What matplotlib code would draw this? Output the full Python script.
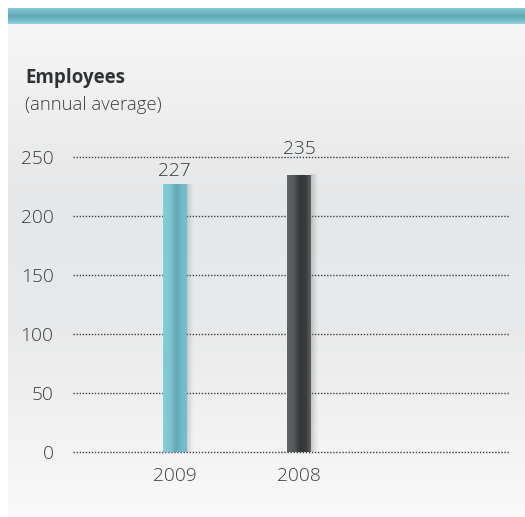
import numpy as np
import matplotlib
matplotlib.use("Agg")
import matplotlib.pyplot as plt
from matplotlib.colors import LinearSegmentedColormap

# ---- data ----
categories = ["2009", "2008"]
employees = [227, 235]
y_ticks = [0, 50, 100, 150, 200, 250]
title = "Employees"
subtitle = "(annual average)"

bar_colors = [
    ["#88cdd9", "#7cc3d1", "#66a6b4", "#6fbccb", "#73c1cf"],
    ["#5f6568", "#54595b", "#323435", "#3a3c3d", "#606365"],
]
# vertical gap (points) between each bar top and its value label baseline
label_gaps = [5.5, 15]

W, H = 525, 517
fig = plt.figure(figsize=(W / 100, H / 100), dpi=100)
fig.patch.set_facecolor("white")
FONT = ["Open Sans", "DejaVu Sans"]

# ---- background panel in pixel coordinates ----
bg = fig.add_axes([0, 0, 1, 1])
bg.set_xlim(0, W)
bg.set_ylim(H, 0)
bg.axis("off")

panel_cmap = LinearSegmentedColormap.from_list(
    "panel",
    [(0.0, "#f6f6f6"), (0.35, "#e6e7e8"), (0.6, "#e8e9ea"), (0.85, "#f3f3f3"), (1.0, "#f9f9f9")],
)
grad = np.linspace(0, 1, 256).reshape(-1, 1)
bg.imshow(grad, cmap=panel_cmap, extent=(8, W, H, 24), aspect="auto", interpolation="bicubic")

band_cmap = LinearSegmentedColormap.from_list(
    "band", [(0.0, "#86cad6"), (0.5, "#62a6b4"), (0.85, "#7cc2cf"), (1.0, "#9ad4de")]
)
bg.imshow(grad, cmap=band_cmap, extent=(8, W, 24, 8), aspect="auto", interpolation="bicubic")

bg.text(25, 83, title, fontsize=13.5, fontweight="bold", color="#2f3335",
        family=FONT, va="baseline", ha="left")
bg.text(25, 110, subtitle, fontsize=13.3, fontweight="light", color="#3a3d3f",
        family=FONT, va="baseline", ha="left")

# ---- chart axes ----
ax = fig.add_axes([73 / W, (H - 451.7) / H, (509 - 73) / W, (451.7 - 157) / H])
ax.patch.set_alpha(0)
x = np.arange(len(categories))
ax.set_xlim(-0.815, 2.687)
ax.set_ylim(0, 250)

for t in y_ticks:
    ax.axhline(t, color="#3c3f41", lw=1.0, dashes=(1, 1.2), zorder=1, clip_on=False)

bars = ax.bar(x, employees, width=0.19, color="none", zorder=3)

hgrad = np.linspace(0, 1, 256).reshape(1, -1)
for patch, cols, val, gap in zip(bars.patches, bar_colors, employees, label_gaps):
    x0, y0 = patch.get_x(), patch.get_y()
    w, h = patch.get_width(), patch.get_height()
    # soft shadow on the right side
    shadow = np.zeros((1, 64, 4))
    shadow[..., :3] = 0.45
    shadow[0, :, 3] = np.linspace(0.45, 0.0, 64) ** 1.3
    ax.imshow(shadow, extent=(x0 + w, x0 + w * 1.3, y0, y0 + h), aspect="auto",
              zorder=2, interpolation="bilinear")
    cmap = LinearSegmentedColormap.from_list(
        "bar", list(zip([0.0, 0.3, 0.55, 0.8, 1.0], cols))
    )
    im = ax.imshow(hgrad, cmap=cmap, extent=(x0, x0 + w, y0, y0 + h), aspect="auto",
                   zorder=3, interpolation="bicubic")
    im.set_clip_path(patch)
    ax.annotate(f"{val}", (x0 + w / 2, y0 + h), xytext=(0, gap), textcoords="offset points",
                ha="center", va="baseline", fontsize=13.8, fontweight="light",
                color="#3a3d3f", family=FONT)

ax.set_xlim(-0.815, 2.687)
ax.set_ylim(0, 250)

ax.set_xticks(x)
ax.set_xticklabels(categories)
ax.set_yticks(y_ticks)
ax.set_yticklabels([str(t) for t in y_ticks])
ax.tick_params(axis="both", length=0, labelsize=13.8, labelcolor="#3a3d3f")
ax.tick_params(axis="y", pad=14)
ax.tick_params(axis="x", pad=11)
for lab in ax.get_xticklabels() + ax.get_yticklabels():
    lab.set_family(FONT)
    lab.set_fontweight("light")
for s in ax.spines.values():
    s.set_visible(False)

fig.savefig("out.png", dpi=100)
